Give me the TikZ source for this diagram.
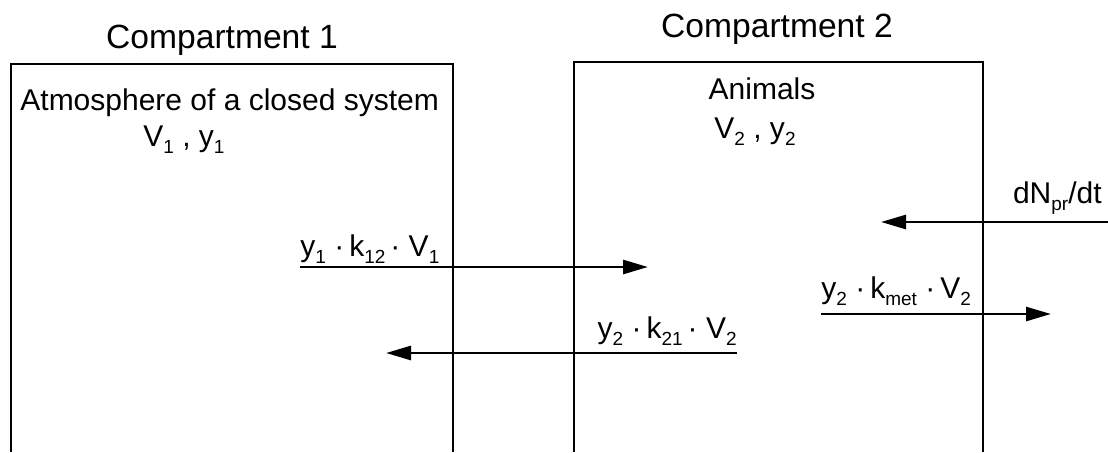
\documentclass[tikz,border=0pt]{standalone}
\usepackage{fontspec}
\setmainfont{Liberation Sans}
\usetikzlibrary{positioning,arrows.meta}
\newcommand{\lowsub}[1]{\raisebox{-0.45ex}{\fontsize{9.5}{10}\selectfont #1}}

\begin{document}
\begin{tikzpicture}[
  x=0.5pt, y=-0.5pt,
  font=\fontsize{15}{17}\selectfont,
  wall/.style={line width=1.45pt},
  ttl/.style={font=\fontsize{16.8}{20}\selectfont, inner sep=0pt, anchor=base},
  lbl/.style={inner sep=0pt, anchor=base west},
  arr/.style={-{Triangle[length=12.5pt, width=7pt]}, line width=1.35pt}
]
\useasboundingbox (0,0) rectangle (1108,452);
% compartments, open at the bottom
\draw[wall] (11,452) |- (453,64) -- (453,452);
\draw[wall] (574,452) |- (983,62) -- (983,452);
\node[ttl] (comp1) at (222,48) {Compartment 1};
\node[ttl] (comp2) at (777,37) {Compartment 2};
\node[lbl] (atm) at (20,110) {Atmosphere of a closed system};
\node[lbl] (vy1) at (143,146) {V\lowsub{1} , y\lowsub{1}};
\node[ttl, font=\fontsize{15}{17}\selectfont] (anim) at (762,99) {Animals};
\node[ttl, font=\fontsize{15}{17}\selectfont] (vy2) at (755,138) {V\lowsub{2} , y\lowsub{2}};
% flow end points
\coordinate (f12s) at (300,267);
\coordinate (f12e) at (648,267);
\coordinate (f21s) at (737,353);
\coordinate (f21e) at (386,353);
\coordinate (fms) at (821,314);
\coordinate (fme) at (1051,314);
\coordinate (fps) at (1108,222);
\coordinate (fpe) at (881,222);
\draw[arr] (f12s) -- (f12e);
\draw[arr] (f21s) -- (f21e);
\draw[arr] (fms) -- (fme);
\draw[arr] (fps) -- (fpe);
\node[lbl] (k12) at (300,256) {y\lowsub{1}\ ·\,k\lowsub{12}\,·\ V\lowsub{1}};
\node[lbl, anchor=base east] (k21) at (737,338) {y\lowsub{2}\ ·\,k\lowsub{21}\,·\ V\lowsub{2}};
\node[lbl] (kmet) at (821,298) {y\lowsub{2}\ ·\,k\lowsub{met}\ ·\,V\lowsub{2}};
\node[lbl, anchor=base east] (prod) at (1102,203) {dN\lowsub{pr}/dt};
\end{tikzpicture}
\end{document}
